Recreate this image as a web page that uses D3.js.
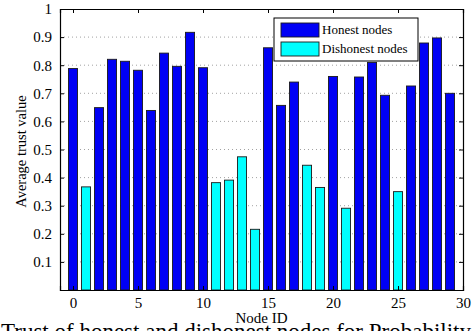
<!DOCTYPE html>
<html>
<head>
<meta charset="utf-8">
<script src="https://cdn.jsdelivr.net/npm/d3@7"></script>
<style>
	body { margin: 0; background: #fff; overflow: hidden; }
	svg text { font-family: "Liberation Serif", "DejaVu Serif", serif; fill: #000; }
</style>
</head>
<body>
<div id="graphic"></div>
<script>
// node ids and trust values
const nodeIds = d3.range(0, 30);
const trustValues = [0.788, 0.367, 0.649, 0.821, 0.814, 0.782, 0.639, 0.843, 0.796, 0.917,
	0.791, 0.382, 0.391, 0.474, 0.216, 0.862, 0.657, 0.740, 0.444, 0.365,
	0.760, 0.291, 0.758, 0.810, 0.693, 0.350, 0.726, 0.879, 0.897, 0.700];
const dishonestIds = [1, 11, 12, 13, 14, 18, 19, 21, 25];
const legendLabels = ["Honest nodes", "Dishonest nodes"];
const xTicks = [0, 5, 10, 15, 20, 25, 30];
const yTicks = [0.1, 0.2, 0.3, 0.4, 0.5, 0.6, 0.7, 0.8, 0.9, 1];

const colours = { honest: "#0000f5", dishonest: "#00ffff" };

let graphicData = nodeIds.map((id, i) => ({
	id: id,
	value: trustValues[i],
	group: dishonestIds.includes(id) ? "dishonest" : "honest"
}));

function drawGraphic() {
	const width = 475, height = 331;
	const margin = { top: 9, right: 12, bottom: 41, left: 60 };
	const chartWidth = width - margin.left - margin.right;
	const chartHeight = height - margin.top - margin.bottom;

	let svg = d3.select('#graphic').append('svg')
		.attr('width', width)
		.attr('height', height);

	let g = svg.append('g')
		.attr('transform', 'translate(' + margin.left + ',' + margin.top + ')');

	const x = d3.scaleLinear().domain([-1, 30]).range([0, chartWidth]);
	const y = d3.scaleLinear().domain([0, 1]).range([chartHeight, 0]);
	const barWidth = x(0.7) - x(0);

	// dotted grid
	g.append('g').attr('class', 'grid')
		.selectAll('line')
		.data(yTicks.filter(d => d < 1))
		.join('line')
		.attr('x1', 0).attr('x2', chartWidth)
		.attr('y1', d => y(d)).attr('y2', d => y(d))
		.attr('stroke', '#8a8a8a')
		.attr('stroke-width', 0.8)
		.attr('stroke-dasharray', '1,3');

	// bars
	g.selectAll('rect.bar')
		.data(graphicData)
		.join('rect')
		.attr('class', 'bar')
		.attr('x', d => x(d.id) - barWidth / 2)
		.attr('y', d => y(d.value))
		.attr('width', barWidth)
		.attr('height', d => y(0) - y(d.value))
		.attr('fill', d => colours[d.group])
		.attr('stroke', '#1a1a1a')
		.attr('stroke-width', 0.9);

	// axes, ticks pointing inward like matlab
	let xAxis = d3.axisBottom(x).tickValues(xTicks).tickSize(-4).tickPadding(7).tickFormat(d3.format('d'));
	let xAxisTop = d3.axisTop(x).tickValues(xTicks).tickSize(-4).tickFormat('');
	let yAxis = d3.axisLeft(y).tickValues(yTicks).tickSize(-4).tickPadding(8).tickFormat(d => d === 1 ? '1' : d3.format('.1f')(d));
	let yAxisRight = d3.axisRight(y).tickValues(yTicks).tickSize(-4).tickFormat('');

	g.append('g').attr('class', 'x axis')
		.attr('transform', 'translate(0,' + chartHeight + ')')
		.call(xAxis);
	g.append('g').attr('class', 'x axis').call(xAxisTop);
	g.append('g').attr('class', 'y axis').call(yAxis);
	g.append('g').attr('class', 'y axis')
		.attr('transform', 'translate(' + chartWidth + ',0)')
		.call(yAxisRight);

	g.selectAll('.axis .domain').attr('stroke', '#000').attr('stroke-width', 1.2);
	g.selectAll('.axis .tick line').attr('stroke', '#000');
	g.selectAll('.axis text').style('font-size', '15px').style('font-family', '"Liberation Serif", serif');

	// axis labels
	g.append('text')
		.attr('x', chartWidth / 2)
		.attr('y', chartHeight + 33)
		.attr('text-anchor', 'middle')
		.style('font-size', '15px')
		.text('Node ID');

	g.append('text')
		.attr('transform', 'translate(' + (-34) + ',' + (chartHeight / 2 + 2) + ') rotate(-90)')
		.attr('text-anchor', 'middle')
		.style('font-size', '14.5px')
		.text('Average trust value');

	// caption, only its top shows at the bottom edge
	svg.append('text')
		.attr('x', 1)
		.attr('y', 339)
		.style('font-size', '23px')
		.text('Trust of honest and dishonest nodes for Probability of');

	// legend
	let legend = svg.append('g').attr('transform', 'translate(274,18)');
	legend.append('rect')
		.attr('width', 144).attr('height', 43)
		.attr('fill', '#fff').attr('stroke', '#000').attr('stroke-width', 1);

	let items = legend.selectAll('g.item')
		.data(legendLabels)
		.join('g')
		.attr('class', 'item')
		.attr('transform', (d, i) => 'translate(7,' + (5 + i * 19) + ')');

	items.append('rect')
		.attr('width', 38).attr('height', 14)
		.attr('fill', (d, i) => i === 0 ? colours.honest : colours.dishonest)
		.attr('stroke', '#1a1a1a').attr('stroke-width', 0.9);

	items.append('text')
		.attr('x', 41)
		.attr('y', 11)
		.style('font-size', '13px')
		.text(d => d);
}

drawGraphic();
</script>
</body>
</html>
